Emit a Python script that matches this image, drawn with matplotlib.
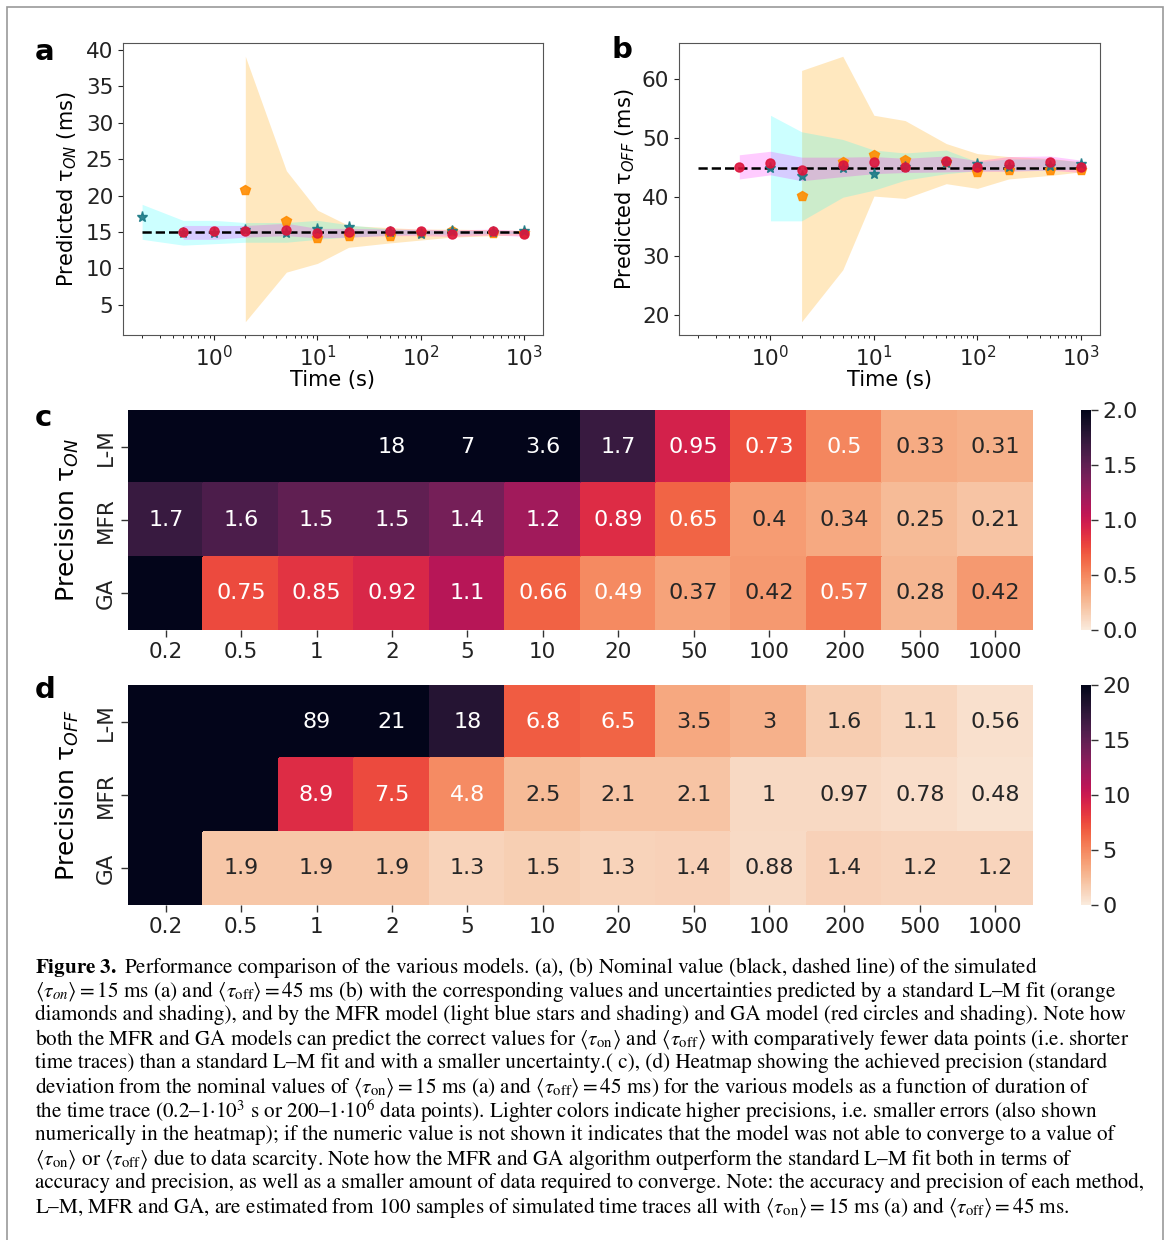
import numpy as np
import matplotlib
matplotlib.use("Agg")
import matplotlib.pyplot as plt
from matplotlib.patches import Rectangle
import seaborn as sns

nan = np.nan
W, H = 1167, 1240

# %% data
times = [0.2, 0.5, 1, 2, 5, 10, 20, 50, 100, 200, 500, 1000]
time_labels = ["0.2", "0.5", "1", "2", "5", "10", "20", "50", "100", "200", "500", "1000"]
models = ["L-M", "MFR", "GA"]

# panel a: tau_on (ms)
lm_on = [nan, nan, nan, 20.8, 16.5, 14.2, 14.5, 14.5, 14.8, 15.1, 14.9, 14.9]
lm_on_lo = [nan, nan, nan, 2.7, 9.5, 10.7, 12.9, 13.5, 13.9, 14.3, 14.5, 14.6]
lm_on_hi = [nan, nan, nan, 39.1, 23.4, 18.0, 15.9, 15.6, 15.4, 15.4, 15.3, 15.2]
mfr_on = [17.1, 14.9, 14.9, 15.3, 14.9, 15.4, 15.7, 15.0, 14.7, 15.1, 15.0, 15.1]
mfr_on_lo = [14.0, 13.2, 13.4, 13.6, 13.6, 14.0, 14.3, 14.6, 14.7, 14.7, 14.8, 14.8]
mfr_on_hi = [18.8, 16.6, 16.6, 16.3, 16.3, 16.6, 16.0, 15.4, 15.3, 15.2, 15.2, 15.1]
ga_on = [nan, 15.0, 15.2, 15.1, 15.3, 14.9, 15.0, 15.1, 15.1, 14.7, 15.1, 14.7]
ga_on_lo = [nan, 14.0, 14.0, 14.3, 14.5, 14.2, 14.3, 14.5, 14.5, 14.4, 14.6, 14.4]
ga_on_hi = [nan, 15.9, 15.9, 15.9, 16.2, 15.5, 15.5, 15.4, 15.4, 15.3, 15.4, 15.2]

# panel b: tau_off (ms)
lm_off = [nan, nan, nan, 40.2, 46.0, 47.2, 46.4, 46.0, 44.3, 44.6, 44.7, 44.7]
lm_off_lo = [nan, nan, nan, 18.9, 27.7, 40.2, 39.8, 42.3, 41.5, 43.1, 43.7, 44.3]
lm_off_hi = [nan, nan, nan, 61.5, 63.9, 53.9, 53.0, 49.1, 47.4, 46.9, 46.6, 46.0]
mfr_off = [nan, nan, 45.0, 43.6, 45.0, 43.9, 45.2, 45.8, 45.6, 45.2, 45.3, 45.6]
mfr_off_lo = [nan, nan, 36.0, 36.0, 40.0, 41.2, 42.9, 44.0, 44.5, 44.5, 44.6, 44.8]
mfr_off_hi = [nan, nan, 53.9, 51.1, 49.8, 48.0, 47.5, 48.0, 46.0, 46.5, 46.5, 46.0]
ga_off = [nan, 45.1, 45.8, 44.7, 45.5, 45.9, 45.2, 46.2, 45.2, 45.6, 46.0, 45.1]
ga_off_lo = [nan, 43.1, 43.8, 42.8, 43.5, 44.0, 44.2, 44.3, 44.4, 44.4, 44.6, 44.2]
ga_off_hi = [nan, 47.2, 47.8, 46.8, 46.8, 46.9, 46.6, 47.0, 46.2, 46.9, 47.0, 46.3]

tau_on_nominal = 15
tau_off_nominal = 45

# panel c, d: precision (nan = not converged)
prec_on_lm = [nan, nan, nan, 18, 7, 3.6, 1.7, 0.95, 0.73, 0.5, 0.33, 0.31]
prec_on_mfr = [1.7, 1.6, 1.5, 1.5, 1.4, 1.2, 0.89, 0.65, 0.4, 0.34, 0.25, 0.21]
prec_on_ga = [nan, 0.75, 0.85, 0.92, 1.1, 0.66, 0.49, 0.37, 0.42, 0.57, 0.28, 0.42]
prec_off_lm = [nan, nan, 89, 21, 18, 6.8, 6.5, 3.5, 3, 1.6, 1.1, 0.56]
prec_off_mfr = [nan, nan, 8.9, 7.5, 4.8, 2.5, 2.1, 2.1, 1, 0.97, 0.78, 0.48]
prec_off_ga = [nan, 1.9, 1.9, 1.9, 1.3, 1.5, 1.3, 1.4, 0.88, 1.4, 1.2, 1.2]

caption = [
    r"$\mathbf{Figure\ 3.}$ Performance comparison of the various models. (a), (b) Nominal value (black, dashed line) of the simulated",
    r"$\langle\tau_{on}\rangle = 15$ ms (a) and $\langle\tau_{\mathrm{off}}\rangle = 45$ ms (b) with the corresponding values and uncertainties predicted by a standard L–M fit (orange",
    "diamonds and shading), and by the MFR model (light blue stars and shading) and GA model (red circles and shading). Note how",
    r"both the MFR and GA models can predict the correct values for $\langle\tau_{\mathrm{on}}\rangle$ and $\langle\tau_{\mathrm{off}}\rangle$ with comparatively fewer data points (i.e. shorter",
    "time traces) than a standard L–M fit and with a smaller uncertainty.( c), (d) Heatmap showing the achieved precision (standard",
    r"deviation from the nominal values of $\langle\tau_{\mathrm{on}}\rangle = 15$ ms (a) and $\langle\tau_{\mathrm{off}}\rangle = 45$ ms) for the various models as a function of duration of",
    r"the time trace (0.2–1·10$^3$ s or 200–1·10$^6$ data points). Lighter colors indicate higher precisions, i.e. smaller errors (also shown",
    "numerically in the heatmap); if the numeric value is not shown it indicates that the model was not able to converge to a value of",
    r"$\langle\tau_{\mathrm{on}}\rangle$ or $\langle\tau_{\mathrm{off}}\rangle$ due to data scarcity. Note how the MFR and GA algorithm outperform the standard L–M fit both in terms of",
    "accuracy and precision, as well as a smaller amount of data required to converge. Note: the accuracy and precision of each method,",
    r"L–M, MFR and GA, are estimated from 100 samples of simulated time traces all with $\langle\tau_{\mathrm{on}}\rangle = 15$ ms (a) and $\langle\tau_{\mathrm{off}}\rangle = 45$ ms.",
]


def box(left, top, right, bottom):
    # pixel box -> figure fraction rect
    return [left / W, 1 - bottom / H, (right - left) / W, (bottom - top) / H]


plt.rcParams["font.family"] = ["DejaVu Sans"]
plt.rcParams["mathtext.fontset"] = "dejavusans"

fig = plt.figure(figsize=(W / 100, H / 100), dpi=100)


# %% line panels
def plot_tau(ax, nominal, lm, lm_lo, lm_hi, mfr, mfr_lo, mfr_hi, ga, ga_lo, ga_hi, ylabel):
    ax.fill_between(times, lm_lo, lm_hi, color="orange", alpha=0.25, lw=0)
    ax.fill_between(times, mfr_lo, mfr_hi, color="cyan", alpha=0.2, lw=0)
    ax.fill_between(times, ga_lo, ga_hi, color="magenta", alpha=0.2, lw=0)
    ax.plot([times[0], times[-1]], [nominal, nominal], "k--", lw=1.8)
    ax.plot(times, lm, "p", color="darkorange", ms=7, alpha=0.9)
    ax.plot(times, mfr, "*", color="#1a7a86", ms=8, alpha=0.9)
    ax.plot(times, ga, "o", color="crimson", ms=6.5, alpha=0.9)
    ax.set_xscale("log")
    ax.set_ylabel(ylabel, fontsize=15)
    ax.set_xlabel("Time (s)", fontsize=15, labelpad=0)
    ax.tick_params(labelsize=15.5, colors="#222222")
    for s in ax.spines.values():
        s.set_color("#555555")


ax_a = fig.add_axes(box(123, 43, 543, 335))
plot_tau(ax_a, tau_on_nominal, lm_on, lm_on_lo, lm_on_hi, mfr_on, mfr_on_lo, mfr_on_hi,
         ga_on, ga_on_lo, ga_on_hi, "Predicted τ$_{ON}$ (ms)")
ax_a.set_yticks([5, 10, 15, 20, 25, 30, 35, 40])
ax_a.yaxis.set_label_coords(-0.105, 0.5)

ax_b = fig.add_axes(box(679, 43, 1100, 335))
plot_tau(ax_b, tau_off_nominal, lm_off, lm_off_lo, lm_off_hi, mfr_off, mfr_off_lo, mfr_off_hi,
         ga_off, ga_off_lo, ga_off_hi, "Predicted τ$_{OFF}$ (ms)")
ax_b.set_yticks([20, 30, 40, 50, 60])
ax_b.yaxis.set_label_coords(-0.10, 0.5)

# %% heatmaps
cmap = sns.color_palette("rocket_r", as_cmap=True).copy()
cmap.set_bad(cmap(1.0))


def luminance(c):
    rgb = np.array(c[:3])
    rgb = np.where(rgb <= 0.03928, rgb / 12.92, ((rgb + 0.055) / 1.055) ** 2.4)
    return rgb.dot([0.2126, 0.7152, 0.0722])


def plot_heat(ax, cax, rows, vmax, cticks, ylabel):
    data = np.ma.masked_invalid(np.array(rows, dtype=float))
    ax.set_facecolor(cmap(1.0))
    mesh = ax.pcolormesh(data, cmap=cmap, vmin=0, vmax=vmax, edgecolor="face", lw=0.3)
    ax.set_xlim(0, len(times))
    ax.set_ylim(len(models), 0)
    norm = mesh.norm
    for i, row in enumerate(rows):
        for j, v in enumerate(row):
            if np.isnan(v):
                continue
            col = cmap(norm(v))
            tc = "#262626" if luminance(col) > 0.408 else "white"
            ax.text(j + 0.5, i + 0.5, f"{v:.2g}", ha="center", va="center",
                    color=tc, fontsize=16)
    ax.set_xticks(np.arange(len(times)) + 0.5)
    ax.set_xticklabels(time_labels)
    ax.set_yticks(np.arange(len(models)) + 0.5)
    ax.set_yticklabels(models, rotation=90, va="center")
    ax.tick_params(labelsize=15.5, length=5, width=1, color="#333333", labelcolor="#222222")
    for s in ax.spines.values():
        s.set_visible(False)
    ax.set_ylabel(ylabel, fontsize=18)
    ax.yaxis.set_label_coords(-0.052, 0.5)
    cb = fig.colorbar(mesh, cax=cax)
    cb.outline.set_visible(False)
    cb.set_ticks(cticks)
    cax.tick_params(labelsize=16, length=5, width=1, color="#333333", labelcolor="#222222")


ax_c = fig.add_axes(box(128, 410, 1033, 630))
cax_c = fig.add_axes(box(1081, 410, 1091, 630))
plot_heat(ax_c, cax_c, [prec_on_lm, prec_on_mfr, prec_on_ga], 2.0,
          [0.0, 0.5, 1.0, 1.5, 2.0], "Precision τ$_{ON}$")
cax_c.set_yticklabels(["0.0", "0.5", "1.0", "1.5", "2.0"])

ax_d = fig.add_axes(box(128, 685, 1033, 905))
cax_d = fig.add_axes(box(1081, 685, 1091, 905))
plot_heat(ax_d, cax_d, [prec_off_lm, prec_off_mfr, prec_off_ga], 20,
          [0, 5, 10, 15, 20], "Precision τ$_{OFF}$")

# %% panel letters
for lab, x, y in [("a", 35, 52), ("b", 611, 50), ("c", 35, 418), ("d", 35, 690)]:
    fig.text(x / W, 1 - y / H, lab, fontsize=21, fontweight="bold", va="center", ha="left")

# %% caption
with plt.rc_context({"mathtext.fontset": "stix"}):
    for k, line in enumerate(caption):
        fig.text(35 / W, 1 - (967 + 24 * k) / H, line, family="STIXGeneral",
                 fontsize=15.2, va="center", ha="left")

# frame around figure
fig.patches.append(Rectangle((7 / W, -0.01), (1163 - 7) / W, 1 - 7 / H + 0.01,
                             transform=fig.transFigure, fill=False,
                             edgecolor="#999999", lw=1.2))

fig.savefig("out.png", dpi=100)
